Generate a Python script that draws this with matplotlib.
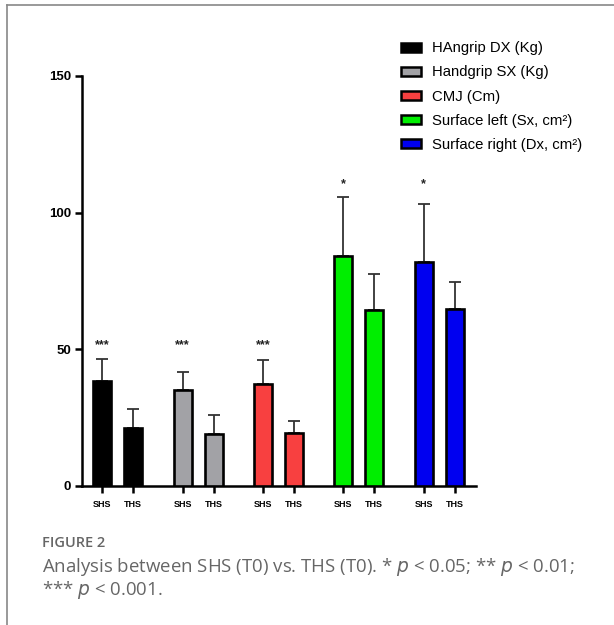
import matplotlib.pyplot as plt
from matplotlib.lines import Line2D
from matplotlib.patches import Patch

groups = ["HAngrip DX (Kg)", "Handgrip SX (Kg)", "CMJ (Cm)",
          "Surface left (Sx, cm²)", "Surface right (Dx, cm²)"]
colors = ["#000000", "#a2a2a6", "#f84040", "#00ee00", "#0000f0"]
conditions = ["SHS", "THS"]
shs_mean = [38.4, 35.1, 37.3, 84.2, 82.0]
shs_sd = [8.1, 6.6, 8.8, 21.5, 21.2]
ths_mean = [21.2, 19.0, 19.4, 64.4, 64.8]
ths_sd = [7.0, 7.0, 4.4, 13.2, 9.8]
stars = ["***", "***", "***", "*", "*"]
star_y = [51.5, 51.5, 51.5, 110.5, 110.5]

plt.rcParams['font.family'] = ['Liberation Sans', 'DejaVu Sans']

fig = plt.figure(figsize=(6.14, 6.25), dpi=100)
ax = fig.add_axes([82 / 614, 1 - 486 / 625, 394 / 614, 410 / 625])

gap = 2.6
width = 0.58
xticks, xlabels = [], []
for g in range(len(groups)):
    for i, (m, s) in enumerate([(shs_mean[g], shs_sd[g]), (ths_mean[g], ths_sd[g])]):
        x = g * gap + i
        ax.bar(x, m, width=width, color=colors[g], edgecolor="black",
               linewidth=1.9, zorder=3)
        ax.errorbar(x, m, yerr=[[0], [s]], color="#333333", capsize=4.5,
                    elinewidth=1.3, capthick=1.3, zorder=2)
        xticks.append(x)
        xlabels.append(conditions[i])
    ax.text(g * gap, star_y[g], stars[g], ha="center", va="center",
            fontsize=9, fontweight="bold", color="#222222")

ax.set_xlim(-0.66, 4 * gap + 1.69)
ax.set_ylim(0, 150)
ax.set_yticks([0, 50, 100, 150])
ax.set_xticks(xticks)
ax.set_xticklabels(xlabels, fontsize=6.5, fontweight="bold")
for lab in ax.get_yticklabels():
    lab.set_fontweight("bold")
    lab.set_fontsize(9.5)
ax.tick_params(axis="both", width=1.8, length=5, pad=3)
ax.tick_params(axis="x", pad=5)
for side in ["top", "right"]:
    ax.spines[side].set_visible(False)
for side in ["left", "bottom"]:
    ax.spines[side].set_linewidth(1.8)

handles = [Patch(facecolor=c, edgecolor="black", linewidth=1.8) for c in colors]
fig.legend(handles, groups, loc="upper left", bbox_to_anchor=(388 / 614, 1 - 28 / 625),
           frameon=False, fontsize=10.7, handlelength=1.35, handleheight=0.55,
           labelspacing=0.68, handletextpad=0.7)

# frame lines of the page
fig.add_artist(Line2D([7 / 614, 7 / 614], [0, 1 - 5 / 625], color="#888888", lw=1.2))
fig.add_artist(Line2D([7 / 614, 1], [1 - 5 / 625, 1 - 5 / 625], color="#888888", lw=1.2))

fig.text(42 / 614, 1 - 543 / 625, "FIGURE 2", fontsize=10.5, color="#666666",
         fontweight="semibold", family="Open Sans", va="center")
fig.text(42 / 614, 1 - 567 / 625,
         "Analysis between SHS (T0) vs. THS (T0). * $p$ < 0.05; ** $p$ < 0.01;",
         fontsize=13.4, color="#666666", family="Open Sans", va="center")
fig.text(42 / 614, 1 - 590 / 625, "*** $p$ < 0.001.",
         fontsize=13.4, color="#666666", family="Open Sans", va="center")

fig.savefig("out.png", dpi=100)
